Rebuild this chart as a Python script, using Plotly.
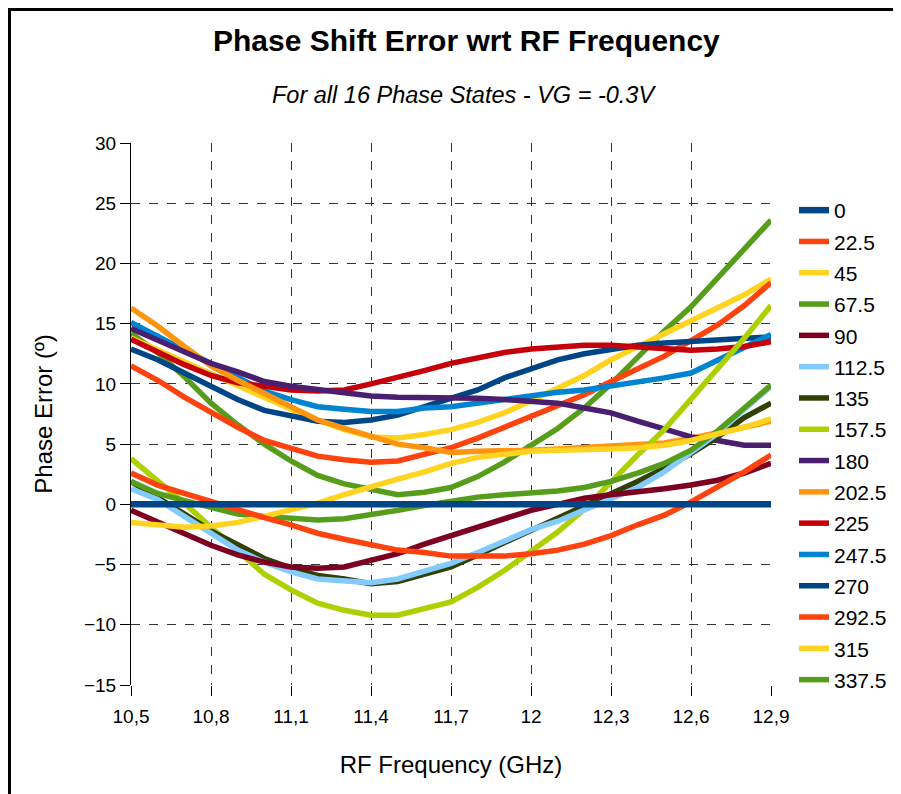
import plotly.graph_objects as go

freq = [10.5, 10.6, 10.7, 10.8, 10.9, 11.0, 11.1, 11.2, 11.3, 11.4, 11.5, 11.6, 11.7,
        11.8, 11.9, 12.0, 12.1, 12.2, 12.3, 12.4, 12.5, 12.6, 12.7, 12.8, 12.9]

s0 = [0.0] * 25
s22_5 = [2.6, 1.6, 0.9, 0.2, -0.5, -1.1, -1.7, -2.4, -2.9, -3.4, -3.8, -4.0, -4.3, -4.3, -4.3, -4.1, -3.8, -3.3, -2.6, -1.7, -0.9, 0.2, 1.4, 2.7, 4.1]
s45 = [-1.5, -1.7, -1.9, -1.8, -1.5, -1.0, -0.5, 0.1, 0.8, 1.5, 2.1, 2.7, 3.4, 3.9, 4.2, 4.4, 4.5, 4.5, 4.6, 4.7, 4.9, 5.3, 5.8, 6.4, 7.1]
s67_5 = [1.9, 0.9, 0.3, -0.3, -0.8, -1.0, -1.2, -1.3, -1.2, -0.9, -0.5, -0.1, 0.3, 0.6, 0.8, 0.9, 1.1, 1.4, 1.9, 2.6, 3.4, 4.5, 6.1, 8.0, 9.9]
s90 = [-0.5, -1.5, -2.4, -3.4, -4.2, -4.8, -5.2, -5.3, -5.2, -4.7, -4.1, -3.3, -2.6, -1.8, -1.1, -0.5, 0.0, 0.5, 0.8, 1.0, 1.3, 1.6, 2.0, 2.6, 3.4]
s112_5 = [1.3, 0.4, -1.0, -2.4, -3.8, -4.8, -5.6, -6.2, -6.4, -6.5, -6.2, -5.5, -4.9, -4.0, -3.0, -2.1, -1.4, -0.5, 0.5, 1.4, 2.7, 4.3, 5.9, 7.9, 9.8]
s135 = [1.9, 0.6, -0.8, -2.2, -3.4, -4.5, -5.3, -5.9, -6.2, -6.6, -6.4, -5.8, -5.2, -4.2, -3.2, -2.1, -1.1, -0.1, 0.9, 1.9, 3.0, 4.2, 5.6, 7.2, 8.4]
s157_5 = [3.8, 2.0, 0.1, -1.9, -3.9, -5.8, -7.1, -8.2, -8.8, -9.2, -9.2, -8.7, -8.1, -6.9, -5.5, -3.9, -2.3, -0.4, 1.9, 4.1, 6.2, 8.7, 11.3, 13.8, 16.5]
s180 = [14.6, 13.6, 12.7, 11.7, 11.0, 10.2, 9.8, 9.5, 9.2, 9.0, 8.9, 8.9, 8.8, 8.8, 8.7, 8.6, 8.4, 8.0, 7.6, 6.9, 6.2, 5.6, 5.3, 4.9, 4.9]
s202_5 = [16.3, 14.8, 13.1, 11.5, 10.3, 9.2, 8.0, 7.0, 6.3, 5.6, 5.0, 4.7, 4.3, 4.4, 4.4, 4.5, 4.6, 4.7, 4.8, 4.9, 5.1, 5.5, 5.9, 6.4, 6.9]
s225 = [13.7, 12.6, 11.6, 10.7, 10.1, 9.8, 9.5, 9.4, 9.5, 10.0, 10.5, 11.1, 11.7, 12.2, 12.6, 12.9, 13.1, 13.2, 13.2, 13.1, 13.0, 12.8, 12.9, 13.1, 13.5]
s247_5 = [15.1, 13.9, 12.8, 11.7, 10.5, 9.4, 8.7, 8.1, 7.9, 7.7, 7.7, 8.0, 8.1, 8.4, 8.7, 9.1, 9.3, 9.5, 9.8, 10.1, 10.5, 10.9, 12.0, 13.0, 14.1]
s270 = [12.9, 12.0, 10.9, 9.8, 8.7, 7.8, 7.3, 6.9, 6.8, 7.0, 7.4, 8.1, 8.7, 9.5, 10.5, 11.3, 12.0, 12.5, 12.9, 13.2, 13.4, 13.5, 13.7, 13.8, 13.9]
s292_5 = [11.5, 10.3, 8.9, 7.6, 6.4, 5.3, 4.6, 4.0, 3.7, 3.5, 3.6, 4.1, 4.7, 5.5, 6.4, 7.3, 8.2, 9.1, 10.2, 11.2, 12.3, 13.6, 14.9, 16.5, 18.4]
s315 = [13.8, 12.8, 11.8, 10.8, 9.8, 8.8, 7.9, 7.0, 6.2, 5.6, 5.5, 5.8, 6.2, 6.8, 7.6, 8.6, 9.6, 10.7, 12.0, 13.1, 14.2, 15.3, 16.4, 17.4, 18.7]
s337_5 = [14.2, 12.6, 10.6, 8.4, 6.6, 5.0, 3.6, 2.4, 1.7, 1.2, 0.8, 1.0, 1.4, 2.3, 3.5, 4.9, 6.3, 8.0, 10.0, 12.2, 14.4, 16.4, 18.8, 21.1, 23.6]

names = ["0", "22.5", "45", "67.5", "90", "112.5", "135", "157.5", "180",
         "202.5", "225", "247.5", "270", "292.5", "315", "337.5"]
series = [s0, s22_5, s45, s67_5, s90, s112_5, s135, s157_5, s180,
          s202_5, s225, s247_5, s270, s292_5, s315, s337_5]
colors = ["#004586", "#ff420e", "#ffd320", "#579d1c", "#7e0021", "#83caff", "#314004", "#aecf00",
          "#4b1f6f", "#ff950e", "#c5000b", "#0084d1", "#004586", "#ff420e", "#ffd320", "#579d1c"]

x_tickvals = [10.5, 10.8, 11.1, 11.4, 11.7, 12.0, 12.3, 12.6, 12.9]
x_ticktext = ["10,5", "10,8", "11,1", "11,4", "11,7", "12", "12,3", "12,6", "12,9"]

fig = go.Figure()
# first series drawn on top: add in reverse order, legend ordered by rank
for i in reversed(range(len(names))):
    fig.add_trace(go.Scatter(
        x=freq, y=series[i], name=names[i], mode="lines",
        line=dict(color=colors[i], width=6.5 if i == 0 else 5.5),
        legendgroup="g" + names[i], legendrank=i + 1,
    ))

FONT = "Liberation Sans, Arial, sans-serif"


def px(sx):
    return (sx - 131) / 640


def py(sy):
    return (685 - sy) / 542


fig.update_layout(
    width=901, height=794,
    margin=dict(l=123, r=138, t=135, b=117),
    paper_bgcolor="white", plot_bgcolor="white",
    font=dict(family=FONT, color="black", size=19),
    showlegend=True,
    legend=dict(
        x=px(794), y=py(190), xanchor="left", yanchor="top",
        traceorder="grouped", tracegroupgap=1,
        font=dict(size=21, family=FONT), bgcolor="rgba(0,0,0,0)",
        itemwidth=30,
    ),
    xaxis=dict(
        range=[10.5, 12.9], tickvals=x_tickvals, ticktext=x_ticktext,
        showgrid=True, gridcolor="#333333", griddash="dash", gridwidth=1,
        showline=False, zeroline=False,
        ticks="outside", ticklen=10, tickcolor="black", tickwidth=1,
        tickfont=dict(size=19), ticklabelstandoff=4,
        title=dict(text="RF Frequency (GHz)", font=dict(size=24), standoff=30),
    ),
    yaxis=dict(
        range=[-15, 30], dtick=5, tick0=0,
        showgrid=True, gridcolor="#333333", griddash="dash", gridwidth=1,
        showline=True, linecolor="black", linewidth=1, zeroline=False,
        ticks="outside", ticklen=10, tickcolor="black", tickwidth=1,
        tickfont=dict(size=19),
        title=dict(text="Phase Error (º)", font=dict(size=24), standoff=24),
    ),
    annotations=[
        dict(text="<b>Phase Shift Error wrt RF Frequency</b>", xref="paper", yref="paper",
             x=px(466), y=py(40), xanchor="center", yanchor="middle",
             showarrow=False, font=dict(size=30, family=FONT)),
        dict(text="<i>For all 16 Phase States - VG = -0.3V</i>", xref="paper", yref="paper",
             x=px(464), y=py(95), xanchor="center", yanchor="middle",
             showarrow=False, font=dict(size=23.5, family=FONT)),
    ],
    shapes=[
        dict(type="line", xref="paper", yref="paper", x0=px(9.5), x1=px(9.5),
             y0=py(8.5), y1=py(810), line=dict(color="black", width=3)),
        dict(type="line", xref="paper", yref="paper", x0=px(8), x1=px(896.5),
             y0=py(9.5), y1=py(9.5), line=dict(color="black", width=3)),
        dict(type="line", xref="paper", yref="paper", x0=px(895), x1=px(895),
             y0=py(8), y1=py(810), line=dict(color="black", width=3)),
    ],
)

fig.write_html("out.html")
